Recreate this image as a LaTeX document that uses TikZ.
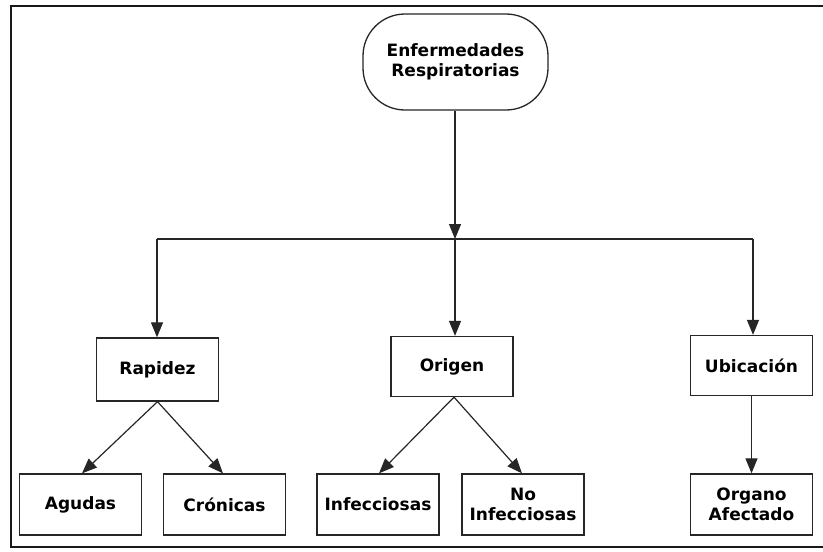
\documentclass[tikz,border=0pt]{standalone}
\usepackage{fontspec}
\setmainfont{DejaVu Sans}
\usetikzlibrary{arrows.meta}
\begin{document}
\begin{tikzpicture}[x=1pt,y=-1pt,
  box/.style={draw=black!85, line width=1.3pt, fill=white, minimum width=122pt, minimum height=60pt,
    inner sep=2pt, align=center, font=\fontsize{17}{20}\selectfont\bfseries},
  topbox/.style={box, rounded corners=42pt, minimum width=185pt, minimum height=96pt},
  conn/.style={draw=black!85, line width=1.2pt},
  arr/.style={conn, -{Triangle[length=15pt,width=12pt]}},
  frame/.style={draw=black!90, line width=2.6pt}]
\useasboundingbox (0,0) rectangle (823,552);
\fill[white] (0,0) rectangle (823,552);
% outer frame (right side cut off)
\coordinate (f1) at (830,6);
\coordinate (f2) at (11,6);
\coordinate (f3) at (11,547);
\coordinate (f4) at (830,547);
\draw[frame] (f1) -- (f2) -- (f3) -- (f4);
% nodes
\node[topbox] (top) at (455.5,62) {Enfermedades\\Respiratorias};
\node[box, minimum height=63pt] (rap) at (157.5,369.5) {Rapidez};
\node[box] (ori) at (452,366.5) {Origen};
\node[box] (ubi) at (751.5,365.5) {Ubicación};
\node[box, minimum height=61pt] (agu) at (80.5,504.5) {Agudas};
\node[box, minimum height=61pt] (cro) at (224.5,504.5) {Crónicas};
\node[box, minimum height=61pt] (inf) at (378,504.5) {Infecciosas};
\node[box, minimum height=61pt] (noi) at (523,504.5) {No\\Infecciosas};
\node[box, minimum height=61pt] (org) at (751.5,504.5) {Organo\\Afectado};
% bus
\coordinate (bl) at (157,239);
\coordinate (bm) at (455,239);
\coordinate (br) at (753,239);
\draw[conn] (bl) -- (br);
\draw[arr] (top.south -| bm) -- (bm);
\draw[arr] (bl) -- (bl |- rap.north);
\draw[arr] (bm) -- (bm |- ori.north);
\draw[arr] (br) -- (br |- ubi.north);
% second level
\draw[arr] (rap.south) -- ([xshift=1.5pt]agu.north);
\draw[arr] (rap.south) -- ([xshift=-1.5pt]cro.north);
\draw[arr] ([xshift=2pt]ori.south) -- ([xshift=1pt]inf.north);
\draw[arr] ([xshift=2pt]ori.south) -- ([xshift=-1pt]noi.north);
\draw[arr] (ubi.south) -- (org.north);
\end{tikzpicture}
\end{document}
